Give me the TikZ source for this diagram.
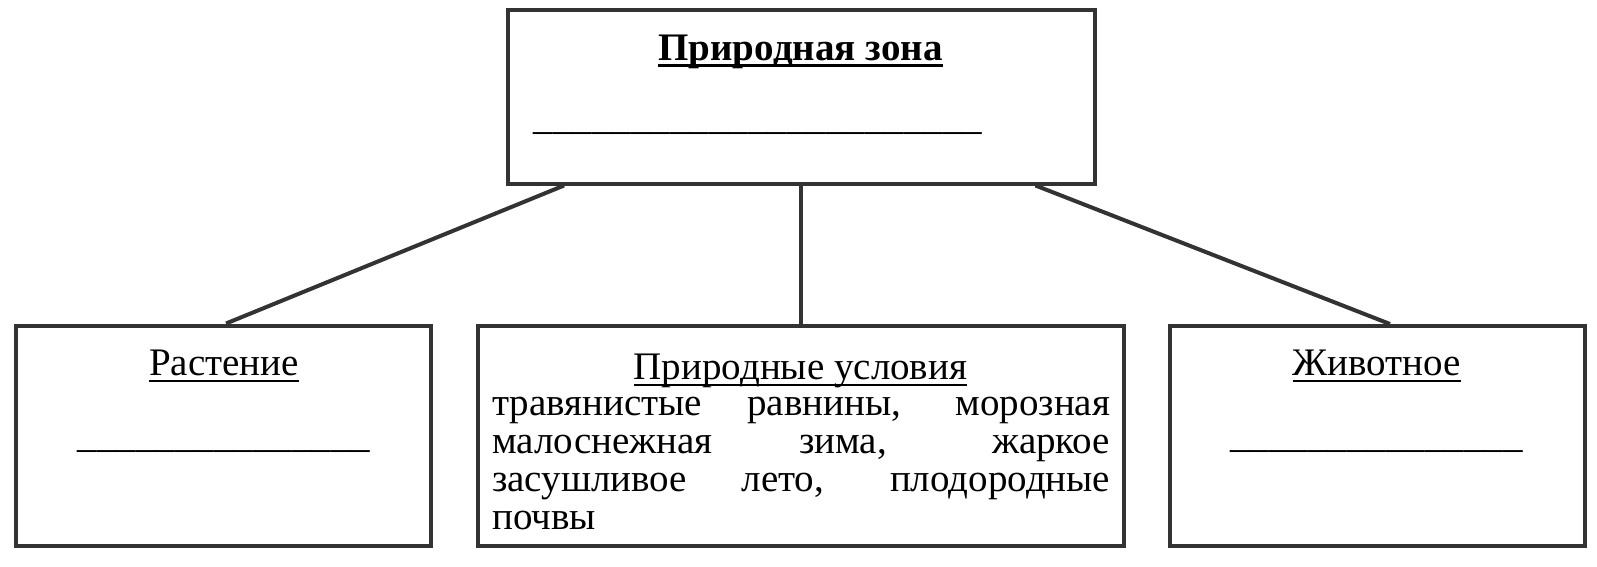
\documentclass[tikz,border=0pt]{standalone}
\usepackage{fontspec}
\setmainfont{Liberation Serif}
\usetikzlibrary{calc}
\definecolor{frame}{RGB}{51,51,51}
\newsavebox{\ulbox}
\newcommand{\ulmk}[3]{\sbox{\ulbox}{#3}\leavevmode\rlap{\lower#1\hbox{\vrule width\wd\ulbox height0pt depth#2}}\usebox{\ulbox}}
\newcommand{\ulthin}[1]{\ulmk{4.5pt}{2.6pt}{#1}}
\newcommand{\ulthick}[1]{\ulmk{3.5pt}{3.6pt}{#1}}
\begin{document}
\begin{tikzpicture}[x=1pt,y=-1pt,
  box/.style={draw=frame, line width=4pt, fill=white, inner sep=0pt},
  conn/.style={draw=frame, line width=4pt},
  txt/.style={inner sep=0pt, anchor=base, font=\fontsize{39}{38}\selectfont}]
\useasboundingbox (0,0) rectangle (1597,566);
\fill[white] (0,0) rectangle (1597,566);
% boxes
\node[box, minimum width=587.5pt, minimum height=174pt] (zone) at (801.25,96.5) {};
\node[box, minimum width=415pt, minimum height=220pt] (plant) at (223.5,435.5) {};
\node[box, minimum width=646pt, minimum height=220pt] (cond) at (800.5,435.5) {};
\node[box, minimum width=415pt, minimum height=220pt] (animal) at (1377,436) {};
% connectors
\draw[conn] ($(zone.south west)!0.099!(zone.south east)$) -- ($(plant.north west)!0.506!(plant.north east)$);
\draw[conn] (zone.south -| cond.north) -- (cond.north);
\draw[conn] ($(zone.south west)!0.896!(zone.south east)$) -- ($(animal.north west)!0.531!(animal.north east)$);
% texts
\node[txt] (zt) at (800.5,60) {\ulthick{\bfseries Природная зона}};
\node[txt] (zb) at (758,129) {\_\_\_\_\_\_\_\_\_\_\_\_\_\_\_\_\_\_\_\_\_\_\_};
\node[txt] (pt) at (224,375) {\ulthin{Растение}};
\node[txt] (pb) at (224,447) {\_\_\_\_\_\_\_\_\_\_\_\_\_\_\_};
\node[txt] (ct) at (800.5,379) {\ulthin{Природные условия}};
\node[txt, anchor=base west, text width=618pt, align=justify] (cb) at (492,415)
  {\spaceskip=0.25em plus 20em minus 0.05em\tolerance=10000\hyphenpenalty=10000
   травянистые равнины, морозная\linebreak малоснежная зима, жаркое\linebreak засушливое лето, плодородные\linebreak почвы};
\node[txt] (at) at (1377,375) {\ulthin{Животное}};
\node[txt] (ab) at (1376.5,447) {\_\_\_\_\_\_\_\_\_\_\_\_\_\_\_};
\end{tikzpicture}
\end{document}
